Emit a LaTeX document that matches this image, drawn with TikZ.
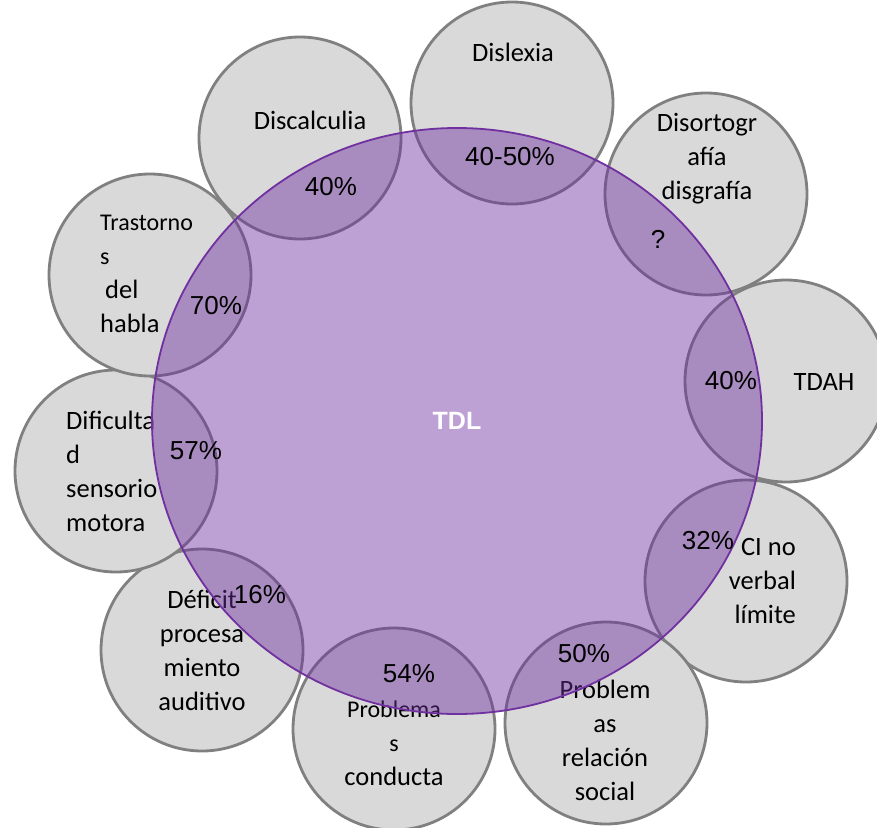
\documentclass[tikz,border=0pt]{standalone}
\usepackage{fontspec}
\setmainfont{Carlito}
\newfontfamily\arialfont{Liberation Sans}
\usetikzlibrary{shapes.geometric}
\definecolor{bubblegray}{HTML}{D9D9D9}
\definecolor{bubbleline}{HTML}{808080}
\definecolor{tdlpurple}{HTML}{7030A0}
\tikzset{
  bubble/.style={circle, draw=bubbleline, fill=bubblegray, line width=2.8pt, minimum size=202pt, inner sep=0pt},
  lbl/.style={align=center, inner sep=0pt, font=\fontsize{26.5}{34}\selectfont},
  pct/.style={inner sep=0pt, font=\arialfont\fontsize{26}{30}\selectfont}
}

\begin{document}
\begin{tikzpicture}[x=1pt, y=-1pt]
        \fill[white] (0,0) rectangle (877,827);
        \useasboundingbox (0,0) rectangle (877,827);
        % Outer circles
        \node[bubble] (dislexia) at (512,103) {};
        \node[bubble] (discalculia) at (300,138) {};
        \node[bubble] (disorto) at (706,194) {};
        \node[bubble] (tdah) at (786,381) {};
        \node[bubble] (cinoverbal) at (746,581) {};
        \node[bubble] (relacion) at (606,723) {};
        \node[bubble] (conducta) at (394,729) {};
        \node[bubble] (deficit) at (202,650) {};
        \node[bubble] (sensorio) at (116,471) {};
        \node[bubble] (habla) at (150,275) {};
        % Labels of the outer circles
        \node[lbl] (tdislexia) at (513,52) {Dislexia};
        \node[lbl] (tdiscalculia) at (310,120) {Discalculia};
        \node[lbl] (tdisorto) at (707,159) {Disortogr\\afía\\disgrafía};
        \node[lbl] (ttdah) at (824,382) {TDAH};
        \node[lbl, align=right, anchor=east] (tcinoverbal) at (796,581) {CI no\\verbal\\límite};
        \node[lbl] (trelacion) at (605,740) {Problem\\as\\relación\\social};
        \node[lbl] (tconducta) at (394,743) {{\fontsize{24}{34}\selectfont Problema}\\{\fontsize{24}{34}\selectfont s}\\conducta};
        \node[lbl] (tdeficit) at (202,650) {Déficit\\procesa\\miento\\auditivo};
        \node[lbl, align=left, anchor=west] (tsensorio) at (66,471) {Dificulta\\d\\sensorio\\motora};
        \node[lbl, align=left, anchor=west] (thabla) at (100,274) {{\fontsize{24}{34}\selectfont Trastorno}\\{\fontsize{24}{34}\selectfont s}\\\hspace{5pt}del\\habla};
        % Central circle
        \node[ellipse, draw=tdlpurple, fill=tdlpurple, fill opacity=0.45, text opacity=1,
              line width=1.8pt, minimum width=610pt, minimum height=586pt, inner sep=0pt,
              text=white, font=\arialfont\bfseries\fontsize{25}{30}\selectfont] (tdl) at (457,421) {TDL};
        % Percentages
        \node[pct] (pdislexia) at (510,157) {40-50\%};
        \node[pct] (pdiscalculia) at (331,187) {40\%};
        \node[pct] (pdisorto) at (658,239) {?};
        \node[pct] (ptdah) at (731,381) {40\%};
        \node[pct] (pcinoverbal) at (708,541) {32\%};
        \node[pct] (prelacion) at (584,654) {50\%};
        \node[pct] (pconducta) at (409,674) {54\%};
        \node[pct] (pdeficit) at (260,595) {16\%};
        \node[pct] (psensorio) at (196,451) {57\%};
        \node[pct] (phabla) at (216,306) {70\%};
\end{tikzpicture}
\end{document}
